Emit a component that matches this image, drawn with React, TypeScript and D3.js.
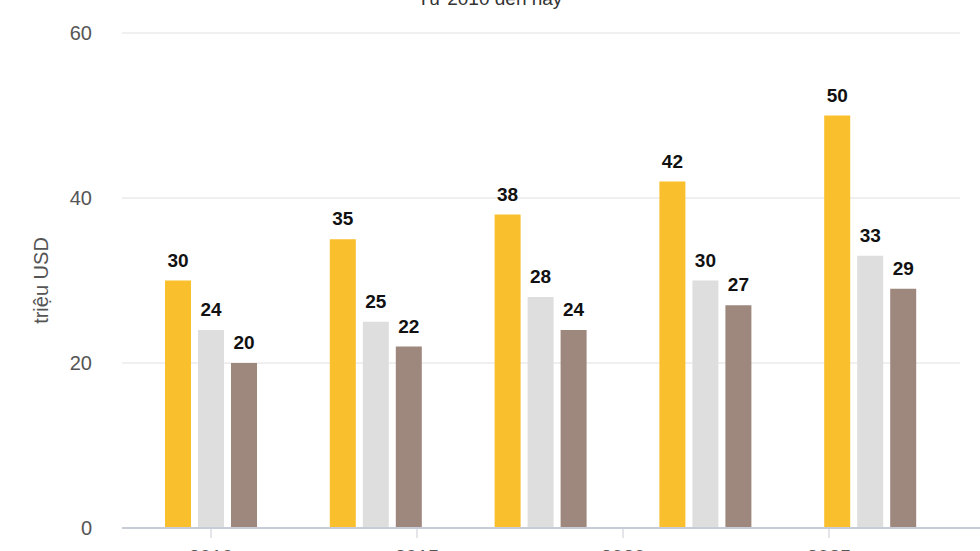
import * as d3 from "d3";

const years = [2010, 2014, 2018, 2022, 2026];
const seriesA = [30, 35, 38, 42, 50];
const seriesB = [24, 25, 28, 30, 33];
const seriesC = [20, 22, 24, 27, 29];
const colors = ["#f9bf2c", "#dedede", "#9e877d"];
const yTicks = [0, 20, 40, 60];
const xTicks = [2010, 2015, 2020, 2025];

export default function App() {
  const width = 980;
  const height = 551;
  const left = 122;
  const right = 960;
  const x = d3.scaleLinear().domain([2010, 2015]).range([211, 417]);
  const y = d3.scaleLinear().domain([0, 60]).range([528, 33]);
  const bw = 26;
  const offsets = [-33, 0, 33];
  const series = [seriesA, seriesB, seriesC];
  const font = "Arial, 'Liberation Sans', sans-serif";

  return (
    <svg
      width={width}
      height={height}
      style={{ position: "absolute", left: 0, top: 0, background: "#fff" }}
      fontFamily={font}
    >
      <text x={490} y={5} textAnchor="middle" fontSize={19} fill="#333">
        Từ 2010 đến nay
      </text>
      {yTicks.map((t) => (
        <g key={t}>
          {t > 0 && (
            <line x1={left} x2={right} y1={y(t)} y2={y(t)} stroke="#e0e0e0" />
          )}
          <text x={92} y={y(t) + 7} textAnchor="end" fontSize={20} fill="#555">
            {t}
          </text>
        </g>
      ))}
      <text
        transform={`translate(48,${y(30)}) rotate(-90)`}
        textAnchor="middle"
        fontSize={20}
        fill="#555"
      >
        triệu USD
      </text>
      {series.map((s, si) =>
        s.map((v, i) => {
          const cx = x(years[i]) + offsets[si];
          return (
            <g key={`${si}-${i}`}>
              <rect
                x={cx - bw / 2}
                y={y(v)}
                width={bw}
                height={y(0) - y(v)}
                fill={colors[si]}
              />
              <text
                x={cx}
                y={y(v) - 14}
                textAnchor="middle"
                fontSize={19}
                fontWeight="bold"
                fill="#111"
              >
                {v}
              </text>
            </g>
          );
        })
      )}
      <line x1={left} x2={right + 20} y1={y(0)} y2={y(0)} stroke="#c8ccd8" strokeWidth={2} />
      {xTicks.map((t) => (
        <g key={t}>
          <line x1={x(t)} x2={x(t)} y1={y(0)} y2={y(0) + 10} stroke="#c8ccd8" />
          <text x={x(t)} y={y(0) + 36} textAnchor="middle" fontSize={20} fill="#555">
            {t}
          </text>
        </g>
      ))}
    </svg>
  );
}
